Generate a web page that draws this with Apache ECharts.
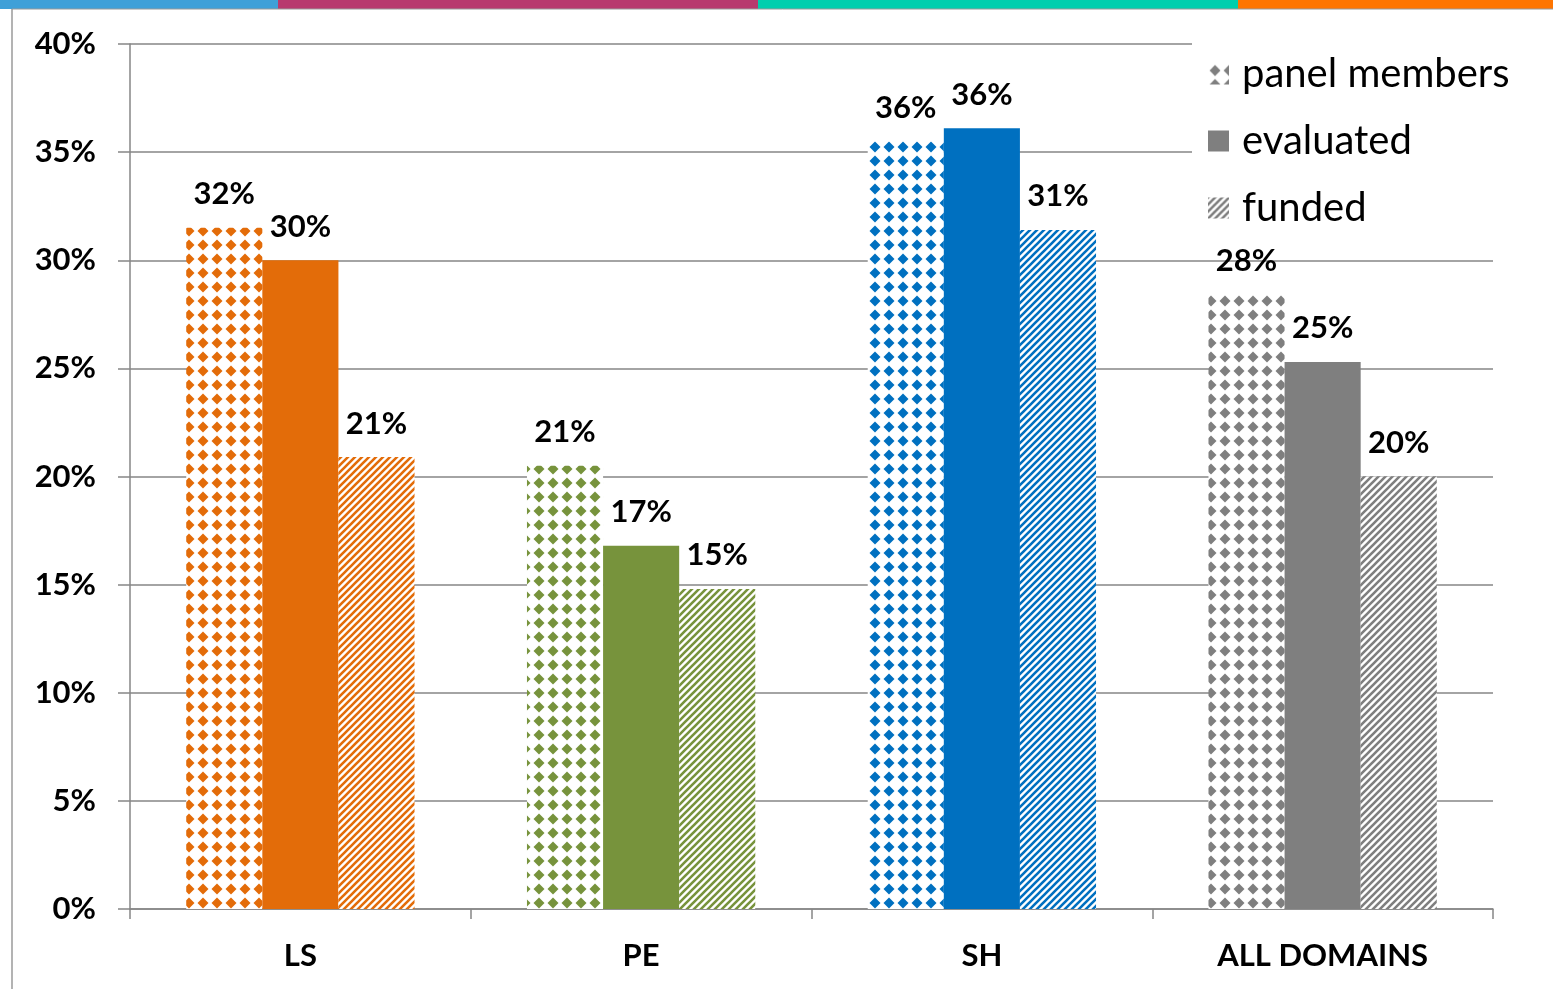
<!DOCTYPE html>
<html>
<head>
<meta charset="utf-8">
<script src="https://cdn.jsdelivr.net/npm/echarts@6/dist/echarts.min.js"></script>
<style>
  html, body { margin: 0; padding: 0; background: #fff; }
  #main { width: 1553px; height: 989px; }
</style>
</head>
<body>
<div id="main"></div>
<script>
var categories = ['LS', 'PE', 'SH', 'ALL DOMAINS'];
var domainColors = ['#E36C09', '#77933C', '#0070C0', '#7F7F7F'];
var seriesNames = ['panel members', 'evaluated', 'funded'];
var panelMembers = [31.5, 20.5, 35.5, 28.4];
var evaluated = [30.0, 16.8, 36.1, 25.3];
var funded = [20.9, 14.8, 31.4, 20.0];

// diamond grid fill
function diamonds(color) {
    var c = document.createElement('canvas');
    c.width = 14; c.height = 14;
    var ctx = c.getContext('2d');
    ctx.fillStyle = '#fff';
    ctx.fillRect(0, 0, 14, 14);
    ctx.fillStyle = color;
    ctx.beginPath();
    ctx.moveTo(7, 1.5); ctx.lineTo(12.5, 7); ctx.lineTo(7, 12.5); ctx.lineTo(1.5, 7);
    ctx.closePath();
    ctx.fill();
    return c;
}

// wide upward diagonal stripes
function stripes(color) {
    var s = 7;
    var c = document.createElement('canvas');
    c.width = s; c.height = s;
    var ctx = c.getContext('2d');
    ctx.fillStyle = '#fff';
    ctx.fillRect(0, 0, s, s);
    ctx.strokeStyle = color;
    ctx.lineWidth = 2.6;
    ctx.beginPath();
    ctx.moveTo(-1, s + 1); ctx.lineTo(s + 1, -1);
    ctx.moveTo(-1, 1); ctx.lineTo(1, -1);
    ctx.moveTo(s - 1, s + 1); ctx.lineTo(s + 1, s - 1);
    ctx.stroke();
    return c;
}

function fillFor(kind, color) {
    if (kind === 0) return { image: diamonds(color), repeat: 'repeat' };
    if (kind === 2) return { image: stripes(color), repeat: 'repeat' };
    return color;
}

var allValues = [panelMembers, evaluated, funded];

var series = allValues.map(function (vals, k) {
    return {
        name: seriesNames[k],
        type: 'bar',
        barGap: '0%',
        barCategoryGap: '33%',
        itemStyle: { color: fillFor(k, '#7F7F7F') },
        label: {
            show: true,
            position: 'top',
            distance: 18,
            color: '#000',
            fontFamily: 'Lato',
            fontWeight: 'bold',
            fontSize: 31,
            formatter: function (p) { return Math.round(p.value) + '%'; }
        },
        data: vals.map(function (v, i) {
            return { value: v, itemStyle: { color: fillFor(k, domainColors[i]) } };
        })
    };
});

var myChart = echarts.init(document.getElementById('main'));
var option = {
    animation: false,
    backgroundColor: '#fff',
    grid: { left: 130, right: 60, top: 44, bottom: 80 },
    legend: {
        orient: 'vertical',
        left: 1192,
        top: 36,
        padding: [16, 40, 16, 16],
        backgroundColor: '#fff',
        icon: 'rect',
        itemWidth: 21,
        itemHeight: 21,
        itemGap: 23,
        textStyle: { fontFamily: 'Lato', fontSize: 40, color: '#000', lineHeight: 44, padding: [0, 0, 0, 8] },
        data: seriesNames
    },
    xAxis: {
        type: 'category',
        data: categories,
        axisLine: { lineStyle: { color: '#868686', width: 1.5 } },
        axisTick: { show: true, length: 10, lineStyle: { color: '#868686', width: 1.5 } },
        axisLabel: { color: '#000', fontFamily: 'Lato', fontWeight: 'bold', fontSize: 31, margin: 31 }
    },
    yAxis: {
        type: 'value',
        min: 0,
        max: 40,
        interval: 5,
        axisLine: { show: true, lineStyle: { color: '#868686', width: 1.5 } },
        axisTick: { show: true, length: 12, lineStyle: { color: '#868686', width: 1.5 } },
        splitLine: { lineStyle: { color: '#868686', width: 1.5 } },
        axisLabel: { color: '#000', fontFamily: 'Lato', fontWeight: 'bold', fontSize: 31, margin: 34, formatter: '{value}%' }
    },
    graphic: [
        { type: 'rect', shape: { x: 0, y: 0, width: 278, height: 9 }, style: { fill: '#3FA0D8' }, z: 100 },
        { type: 'rect', shape: { x: 278, y: 0, width: 480, height: 9 }, style: { fill: '#B83A6E' }, z: 100 },
        { type: 'rect', shape: { x: 758, y: 0, width: 480, height: 9 }, style: { fill: '#00CFAE' }, z: 100 },
        { type: 'rect', shape: { x: 1238, y: 0, width: 315, height: 9 }, style: { fill: '#FF7500' }, z: 100 },
        { type: 'line', shape: { x1: 12, y1: 9, x2: 1553, y2: 9 }, style: { stroke: '#9a9a9a', lineWidth: 1 }, z: 100 },
        { type: 'line', shape: { x1: 12, y1: 9, x2: 12, y2: 989 }, style: { stroke: '#9a9a9a', lineWidth: 1.5 }, z: 100 }
    ],
    series: series
};
option && myChart.setOption(option);
</script>
</body>
</html>
